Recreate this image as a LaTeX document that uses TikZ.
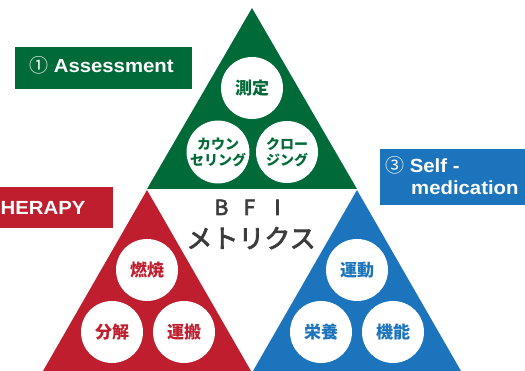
\documentclass[tikz,border=0pt]{standalone}
\usepackage{fontspec}
\setmainfont{Liberation Sans}[FakeStretch=1.07]
\newfontfamily\jpfont{Noto Sans CJK JP}
\newfontfamily\jpmedio{Noto Sans CJK JP}[FakeBold=3]

\definecolor{bfigreen}{RGB}{0,106,56}
\definecolor{bfired}{RGB}{190,30,45}
\definecolor{bfiblue}{RGB}{28,117,188}
\definecolor{bfigray}{RGB}{60,60,60}

\begin{document}
\begin{tikzpicture}[
    x=1pt, y=-1pt,
    bolla/.style={
        circle,
        fill=white,
        minimum size=62pt,
        inner sep=0pt,
        align=center,
        font=\jpfont\bfseries\fontsize{17}{19}\selectfont
    },
    bollapiccola/.style={
        bolla,
        font=\jpfont\bfseries\fontsize{14}{16}\selectfont
    },
    cartello/.style={
        rectangle,
        inner sep=0pt
    },
    scritta/.style={
        text=white,
        inner sep=0pt,
        anchor=base west,
        font=\bfseries\fontsize{19}{22}\selectfont
    }
]
\useasboundingbox (0,0) rectangle (525,371);

% Triangoli
\fill[bfigreen] (252,8) -- (357,189) -- (147,189) -- cycle;
\fill[bfired] (147,190) -- (251,371) -- (43,371) -- cycle;
\fill[bfiblue] (357,190) -- (461,371) -- (253,371) -- cycle;

% Assessment
\node[bolla, text=bfigreen] (sokutei) at (252,88) {測定};
\node[bollapiccola, text=bfigreen] (counseling) at (218,152) {カウン\\セリング};
\node[bollapiccola, text=bfigreen] (closing) at (287,152) {クロー\\ジング};

% Therapy
\node[bolla, text=bfired] (nensho) at (147,270) {燃焼};
\node[bolla, text=bfired] (bunkai) at (112,332) {分解};
\node[bolla, text=bfired] (unpan) at (184,332) {運搬};

% Self-medication
\node[bolla, text=bfiblue] (undo) at (357,270) {運動};
\node[bolla, text=bfiblue] (eiyo) at (321,332) {栄養};
\node[bolla, text=bfiblue] (kino) at (393,332) {機能};

% Centro
\node[text=bfigray, inner sep=0pt, anchor=base, font=\jpmedio\fontsize{21}{24}\selectfont]
    (bfi) at (249.5,215) {\makebox[28pt]{B}\makebox[28pt]{F}\makebox[28pt]{I}};
\node[text=bfigray, inner sep=0pt, anchor=base, font=\jpmedio\fontsize{26}{28}\selectfont]
    (metrics) at (251,248) {メトリクス};

% Cartelli
\node[cartello, fill=bfigreen, minimum width=177pt, minimum height=42pt] (boxassess) at (103.5,68) {};
\node[scritta] (assess) at (29,73) {{\jpfont\mdseries ①}\ Assessment};

\node[cartello, fill=bfired, minimum width=113pt, minimum height=41pt] (boxtherapy) at (56.5,207.5) {};
\node[scritta] (therapy) at (0.5,215) {HERAPY};

\node[cartello, fill=bfiblue, minimum width=145pt, minimum height=56pt] (boxself) at (452.5,177) {};
\node[scritta] (self) at (385,173) {{\jpfont\mdseries ③}\ Self -};
\node[scritta] (medication) at (411,195) {medication};

\end{tikzpicture}
\end{document}
